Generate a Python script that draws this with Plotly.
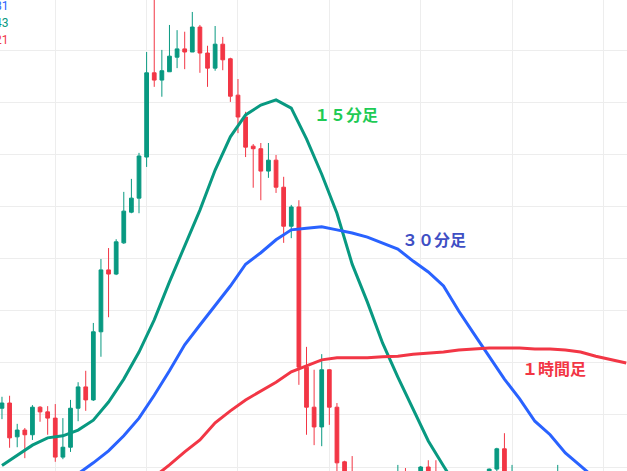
import plotly.graph_objects as go

# ローソク足（15分足）
OPEN = [111.3, 112.3, 105.8, 107.1, 106.2, 111.5, 110.6, 109.4, 101.9, 103.8,
        111.3, 115.4, 112.9, 126.0, 137.9, 137.1, 143.1, 149.0, 151.7, 159.6,
        175.8, 174.4, 176.0, 178.8, 180.4, 179.8, 184.6, 179.6, 176.7, 181.3,
        178.5, 171.5, 167.3, 161.7, 161.2, 156.9, 159.0, 153.8, 146.3, 150.0,
        119.2, 111.5, 107.7, 118.7, 111.5, 101.0, 98.5, 95.8, 93.5, 91.2,
        92.8, 95.0, 93.8, 98.0, 96.2, 97.0, 100.0, 98.0, 96.5, 94.0,
        95.5, 94.5, 96.0, 97.2, 96.0, 99.6, 103.5, 97.0, 98.5, 96.3,
        95.0, 96.8, 95.6, 94.5, 98.0, 95.8, 94.0, 95.2, 93.5, 94.6,
        93.8, 95.0, 94.2]
HIGH = [113.5, 113.7, 108.3, 107.5, 111.9, 111.7, 111.7, 112.1, 109.4, 112.9,
        116.3, 118.5, 127.7, 140.0, 142.1, 143.8, 152.9, 155.4, 160.4, 179.8,
        190.5, 180.2, 185.0, 184.0, 183.7, 187.5, 185.0, 181.0, 184.8, 182.7,
        178.7, 174.6, 168.3, 162.1, 162.3, 162.3, 160.0, 155.8, 150.4, 151.3,
        123.1, 118.7, 121.7, 118.8, 112.3, 101.2, 102.1, 97.5, 95.0, 94.0,
        96.0, 97.0, 100.4, 99.8, 98.5, 100.2, 101.3, 101.3, 98.0, 96.5,
        97.0, 96.8, 98.0, 98.5, 99.7, 103.7, 106.5, 100.4, 99.0, 98.0,
        97.5, 98.2, 97.4, 100.4, 98.8, 97.0, 96.0, 96.5, 95.5, 96.2,
        95.8, 96.8, 96.0]
LOW = [109.2, 103.7, 103.8, 101.7, 105.2, 108.7, 106.2, 101.0, 101.5, 102.9,
       108.8, 110.8, 112.7, 121.2, 128.8, 136.9, 142.9, 148.8, 148.8, 157.7,
       173.1, 171.2, 176.0, 176.7, 176.5, 179.8, 175.8, 173.1, 176.2, 176.3,
       170.2, 164.2, 159.6, 153.7, 151.3, 155.6, 152.7, 143.1, 144.0, 115.8,
       106.2, 104.2, 104.0, 108.1, 98.5, 96.0, 94.5, 92.0, 90.5, 89.0,
       91.5, 92.5, 93.0, 95.0, 94.0, 96.0, 97.0, 95.5, 93.0, 92.0,
       93.5, 93.0, 94.5, 95.5, 95.0, 99.0, 97.0, 96.0, 95.5, 94.0,
       93.5, 94.8, 93.9, 94.0, 95.0, 93.0, 92.0, 92.8, 91.0, 93.0,
       92.2, 93.6, 92.5]
CLOSE = [112.3, 105.6, 107.1, 106.2, 111.5, 110.6, 109.4, 101.9, 103.8, 111.3,
         115.4, 112.9, 126.0, 137.9, 137.1, 143.3, 149.2, 151.7, 159.8, 175.8,
         174.4, 176.2, 179.0, 180.4, 179.8, 184.6, 179.6, 176.7, 181.3, 178.3,
         171.3, 167.3, 161.5, 161.2, 156.9, 159.0, 153.8, 146.3, 150.0, 119.2,
         111.5, 107.7, 118.7, 111.5, 100.8, 97.5, 95.8, 93.5, 91.2, 92.8,
         95.0, 93.8, 98.0, 96.2, 97.0, 100.0, 98.0, 96.5, 94.0, 95.5,
         94.5, 96.0, 97.2, 96.0, 99.6, 103.5, 97.8, 98.5, 96.3, 95.0,
         96.8, 95.6, 94.5, 98.0, 95.8, 94.0, 95.2, 93.5, 94.6, 93.8,
         95.0, 94.2, 95.3]
BAR_X = list(range(len(OPEN)))

# 上位足の移動平均
MA15_X = list(range(0, 61, 2))
MA15_Y = [100.3, 102.3, 104.2, 105.6, 106.0, 107.1, 109.0, 112.5, 116.9, 122.1,
          128.3, 135.6, 142.5, 149.4, 157.1, 163.5, 167.7, 169.6, 170.6, 169.0,
          163.1, 156.3, 148.8, 139.0, 131.7, 123.8, 117.3, 111.0, 105.0, 100.2,
          95.5]
MA30_X = list(range(10, 79, 2))
MA30_Y = [98.7, 100.8, 103.1, 106.0, 109.4, 113.8, 118.5, 123.5, 127.3, 131.0,
          134.8, 139.0, 141.2, 143.7, 145.6, 145.9, 146.2, 145.6, 145.0, 144.2,
          143.1, 141.9, 139.6, 137.5, 134.8, 130.0, 125.6, 121.2, 116.9, 113.1,
          108.8, 106.2, 102.7, 100.2, 97.7]
MA60_X = list(range(20, 83, 2))
MA60_Y = [98.1, 100.4, 102.9, 105.2, 108.5, 110.8, 112.9, 114.6, 116.3, 118.3,
          119.4, 120.6, 121.0, 121.0, 121.0, 121.2, 121.3, 121.7, 121.9, 122.1,
          122.5, 122.7, 122.9, 122.9, 122.9, 122.7, 122.7, 122.5, 122.1, 121.3,
          120.6, 120.0]

LEGEND_VALUES = ["81", "43", "21"]

UP = "#089981"
DOWN = "#f23645"
BLUE = "#2962ff"
GRID = "#ededed"

fig = go.Figure()
fig.add_trace(go.Candlestick(
    x=BAR_X, open=OPEN, high=HIGH, low=LOW, close=CLOSE,
    increasing=dict(line=dict(color=UP, width=1), fillcolor=UP),
    decreasing=dict(line=dict(color=DOWN, width=1), fillcolor=DOWN),
    showlegend=False,
))
fig.add_trace(go.Scatter(x=MA15_X, y=MA15_Y, mode="lines",
                         line=dict(color=UP, width=3), showlegend=False))
fig.add_trace(go.Scatter(x=MA30_X, y=MA30_Y, mode="lines",
                         line=dict(color=BLUE, width=3), showlegend=False))
fig.add_trace(go.Scatter(x=MA60_X, y=MA60_Y, mode="lines",
                         line=dict(color=DOWN, width=3), showlegend=False))

label_font = dict(family="Noto Sans CJK JP", size=16)
fig.add_annotation(x=45.2, y=167.9, text="<b>１５分足</b>", showarrow=False,
                   font=dict(label_font, color="#1ecb55"))
fig.add_annotation(x=56.8, y=143.8, text="<b>３０分足</b>", showarrow=False,
                   font=dict(label_font, color="#3f4fc4"))
fig.add_annotation(x=72.5, y=119.0, text="<b>１時間足</b>", showarrow=False,
                   font=dict(label_font, color=DOWN))

for i, (txt, col) in enumerate(zip(LEGEND_VALUES, [BLUE, UP, DOWN])):
    fig.add_annotation(xref="paper", yref="paper", x=11 / 627,
                       y=1 - (6 + 17 * i) / 471, text=txt, showarrow=False,
                       xanchor="right", yanchor="middle",
                       font=dict(family="Roboto", size=12, color=col))

fig.update_layout(
    width=627, height=471,
    margin=dict(l=0, r=0, t=0, b=0),
    paper_bgcolor="white", plot_bgcolor="white",
    xaxis=dict(range=[-0.26, 82.1], tick0=7, dtick=12, showticklabels=False,
               gridcolor=GRID, zeroline=False, rangeslider=dict(visible=False),
               fixedrange=True),
    yaxis=dict(range=[99.23, 189.8], tick0=0, dtick=10, showticklabels=False,
               gridcolor=GRID, zeroline=False, fixedrange=True),
    boxgap=0.3,
)

fig.write_html("out.html", config={"displayModeBar": False},
               post_script="document.body.style.margin='0';")
